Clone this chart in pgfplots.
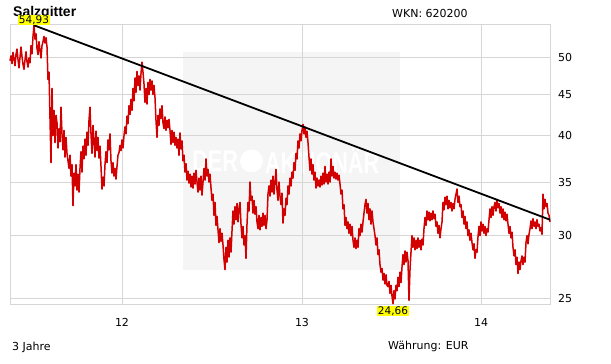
\documentclass[border=0pt]{standalone}
\usepackage{pgfplots}
\usepackage{pgfplotstable}
\pgfplotsset{compat=1.18}
\usepackage{fontspec}
\setmainfont{DejaVu Sans}
\newfontfamily\titlefont{Liberation Sans}
\definecolor{gridc}{HTML}{D6D6D6}
\definecolor{wm}{HTML}{F5F5F5}
\definecolor{redline}{HTML}{D20000}
\definecolor{lab}{HTML}{FFFF00}

\pgfplotstableread[row sep=\\]{p\\
49.6\\50.3\\49.2\\50.8\\49.9\\48.9\\50.5\\51.3\\49.8\\48.6\\50.1\\51.6\\50.2\\49.1\\48.4\\49.7\\50.9\\49.5\\48.7\\50.0\\
49.3\\51.8\\50.6\\53.2\\54.93\\52.8\\53.6\\51.4\\
50.5\\52.4\\51.1\\50.0\\51.8\\52.4\\53.2\\52.2\\53.0\\51.6\\
47.0\\48.0\\42.0\\37.0\\45.8\\40.0\\43.0\\39.2\\42.4\\
41.5\\38.6\\40.8\\39.3\\43.4\\40.2\\
38.4\\40.6\\37.6\\39.8\\38.0\\37.2\\
36.4\\37.8\\35.6\\36.8\\32.7\\35.9\\34.6\\
36.8\\34.2\\35.8\\34.0\\36.4\\
38.2\\36.0\\38.8\\37.4\\39.6\\37.8\\40.4\\38.9\\41.8\\43.4\\
40.2\\38.0\\41.2\\39.4\\37.6\\40.5\\38.3\\39.8\\37.5\\38.8\\
36.6\\34.3\\35.5\\
34.6\\36.8\\38.2\\37.0\\39.5\\38.4\\40.2\\
37.2\\35.9\\37.0\\35.6\\36.4\\35.3\\36.6\\37.8\\
38.1\\38.9\\38.3\\39.5\\38.6\\
40.0\\41.0\\40.2\\42.3\\41.4\\43.6\\42.5\\
44.4\\43.0\\45.8\\44.2\\47.2\\45.3\\48.1\\
46.2\\47.5\\45.6\\47.8\\49.4\\48.0\\46.4\\
44.0\\45.8\\43.8\\
46.6\\45.0\\47.0\\45.6\\46.8\\45.0\\46.2\\44.6\\
41.8\\39.8\\
42.4\\41.2\\43.2\\42.0\\43.6\\41.5\\
40.8\\42.2\\40.6\\41.8\\40.9\\41.9\\40.6\\
39.0\\40.6\\39.2\\40.4\\38.9\\39.8\\38.6\\
39.6\\37.8\\40.3\\38.5\\39.4\\37.2\\
37.8\\36.0\\36.9\\35.2\\36.1\\34.9\\35.8\\
34.5\\35.6\\34.4\\35.9\\34.8\\36.2\\35.0\\34.0\\35.4\\34.2\\
35.6\\33.7\\35.0\\36.4\\35.2\\37.4\\35.6\\
36.3\\35.0\\35.8\\34.4\\33.2\\
33.8\\31.8\\33.0\\30.9\\31.7\\
30.5\\29.4\\30.6\\29.5\\30.2\\29.2\\
28.0\\27.2\\29.0\\27.8\\
29.6\\28.2\\29.8\\28.6\\30.4\\
32.2\\31.0\\32.6\\31.4\\32.9\\31.2\\32.5\\33.0\\
31.0\\29.8\\30.8\\29.2\\30.0\\28.1\\
31.0\\33.0\\32.2\\35.0\\33.2\\
33.6\\32.0\\33.2\\31.9\\32.6\\31.2\\
30.6\\31.8\\30.5\\31.6\\30.8\\32.0\\30.9\\31.8\\30.6\\31.4\\
33.8\\34.6\\33.6\\
35.2\\34.0\\35.6\\33.8\\35.0\\36.3\\34.2\\33.2\\35.0\\33.6\\
32.8\\33.9\\31.1\\32.4\\31.8\\
33.4\\32.8\\34.6\\33.8\\35.4\\34.6\\36.0\\35.4\\
37.0\\36.2\\38.0\\37.4\\39.4\\
38.6\\40.2\\39.4\\40.6\\41.3\\40.2\\41.0\\
39.8\\40.5\\39.2\\
37.6\\36.2\\37.4\\35.8\\36.8\\
35.2\\36.0\\34.4\\35.4\\34.6\\35.2\\34.5\\
35.6\\34.7\\35.9\\34.8\\36.6\\35.0\\35.8\\34.8\\36.0\\35.0\\
37.4\\35.6\\36.6\\
35.4\\36.0\\35.3\\35.9\\35.2\\35.7\\34.8\\
33.8\\34.2\\32.4\\32.8\\30.9\\
31.6\\30.6\\31.2\\30.2\\31.0\\30.0\\30.8\\29.6\\
29.0\\29.8\\28.9\\29.6\\29.0\\
30.6\\30.0\\31.0\\30.3\\31.2\\
32.0\\32.8\\33.3\\32.0\\32.9\\
31.4\\32.4\\31.0\\32.2\\31.2\\
30.6\\30.0\\29.2\\29.8\\28.4\\28.8\\27.6\\
27.0\\27.3\\26.4\\26.9\\26.1\\26.8\\26.0\\
25.9\\26.3\\25.4\\26.0\\25.2\\
24.66\\25.6\\25.0\\
26.0\\25.6\\26.6\\25.9\\27.0\\26.2\\27.4\\
28.4\\27.6\\28.7\\27.8\\28.6\\27.9\\
24.9\\27.2\\
28.6\\30.0\\29.0\\29.8\\28.8\\29.6\\28.9\\
29.8\\29.0\\29.6\\28.8\\29.7\\29.2\\
30.6\\31.6\\30.9\\32.2\\31.4\\
32.1\\31.3\\32.0\\31.4\\32.2\\31.5\\31.9\\
30.8\\31.2\\30.2\\30.9\\29.8\\30.6\\31.2\\
33.0\\32.3\\33.5\\32.8\\33.6\\32.4\\33.2\\32.5\\33.0\\32.2\\32.9\\32.4\\33.3\\
33.8\\34.3\\33.0\\
33.6\\32.6\\
32.8\\31.6\\32.2\\31.0\\31.7\\30.6\\31.2\\
30.0\\30.5\\29.6\\30.2\\29.4\\
28.8\\29.3\\28.1\\28.8\\28.6\\
29.9\\30.8\\30.0\\31.2\\30.4\\31.0\\
30.2\\30.8\\30.0\\30.6\\30.3\\
31.4\\32.4\\31.6\\32.6\\31.8\\
32.6\\33.0\\32.2\\33.3\\32.5\\32.9\\32.0\\
32.6\\31.6\\32.4\\31.4\\32.1\\31.3\\31.9\\
31.0\\30.2\\30.8\\29.8\\30.3\\
29.0\\28.3\\28.8\\
27.6\\28.2\\26.9\\27.8\\27.2\\
27.9\\28.3\\27.6\\28.2\\27.8\\
29.4\\30.0\\29.3\\30.1\\30.6\\
31.3\\30.6\\31.5\\30.8\\31.2\\30.6\\31.4\\
30.8\\31.0\\30.4\\30.7\\30.1\\
33.8\\32.4\\33.3\\32.6\\32.9\\32.0\\31.8\\31.2\\
}\prices

\begin{document}
\begin{tikzpicture}[x=1pt,y=1pt]
\useasboundingbox (0,0) rectangle (611,364);
% title (drawn first: the min/max label box lies over it, as in the reference)
\node[anchor=base west, inner sep=0pt, font=\titlefont\bfseries\fontsize{14}{16}\selectfont] at (13,347) {Salzgitter};
% watermark
\fill[wm] (183,94) rectangle (400,312);
\node[text=white, font=\titlefont\bfseries\fontsize{30}{30}\selectfont, xscale=0.72, anchor=east, inner sep=0pt] at (238,203) {DER};
\fill[white] (251.5,203) circle (11.5);
\node[text=white, font=\titlefont\bfseries\fontsize{30}{30}\selectfont, xscale=0.72, anchor=west, inner sep=0pt] at (265,203) {AKTIONÄR};
\begin{axis}[
  at={(10pt,59pt)}, anchor=south west,
  scale only axis, width=540pt, height=280pt,
  xmin=0, xmax=540,
  ymode=log, ymin=24.57, ymax=54.98,
  xtick={112,292,471}, xticklabels={12,13,14},
  ytick={25,30,35,40,45,50}, yticklabels={25,30,35,40,45,50},
  yticklabel pos=right,
  major tick length=0pt,
  xmajorgrids, ymajorgrids,
  grid style={gridc, line width=1pt},
  axis line style={gridc, line width=1pt},
  tick label style={font=\fontsize{11}{13}\selectfont},
  yticklabel style={anchor=west, inner sep=0pt, xshift=8pt},
  xticklabel style={anchor=north, inner sep=0pt, yshift=-13pt},
  clip=false,
]
\addplot[redline, line width=1.5pt, line join=round] table[x expr=\coordindex, y=p] {\prices};
\addplot[black, line width=1.8pt] coordinates {(24,54.93)(540,31.4)};
\node[fill=lab, inner sep=0.6pt, anchor=south, font=\fontsize{10.5}{12}\selectfont] at (axis cs:24,54.93) {54,93};
\node[fill=lab, inner sep=0.6pt, anchor=north, font=\fontsize{10.5}{12}\selectfont, yshift=-2pt] at (axis cs:383,24.66) {24,66};
\end{axis}
\node[anchor=base west, inner sep=0pt, font=\fontsize{11}{13}\selectfont] at (392,346) {WKN: 620200};
\node[anchor=base west, inner sep=0pt, font=\fontsize{11}{13}\selectfont] at (12,13) {3 Jahre};
\node[anchor=base west, inner sep=0pt, font=\fontsize{11}{13}\selectfont] at (388,14) {Währung: EUR};
\end{tikzpicture}
\end{document}
